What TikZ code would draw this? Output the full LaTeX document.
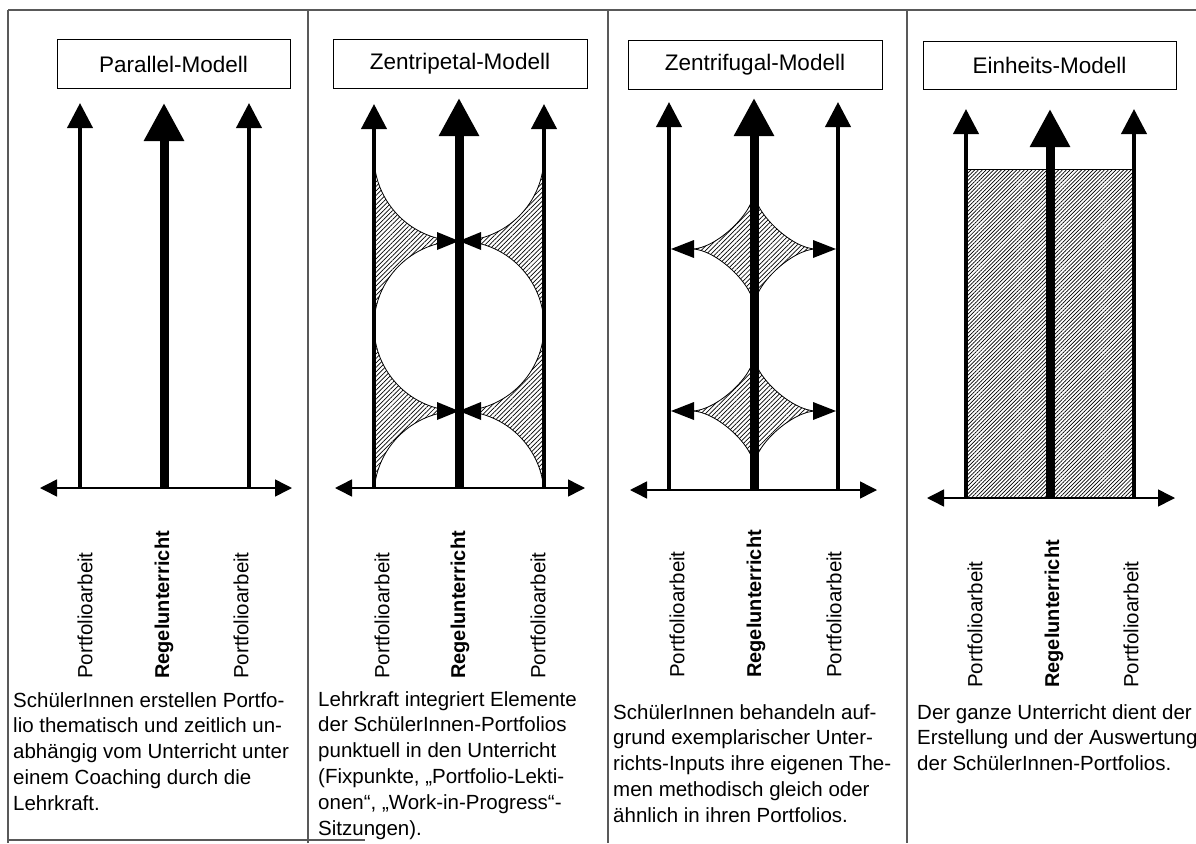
\documentclass[tikz,border=0pt]{standalone}
\usepackage{fontspec}
\setmainfont{Liberation Sans}
\usetikzlibrary{arrows.meta,patterns.meta}
\tikzset{
  frameline/.style={draw=black!65, line width=1.2pt},
  titlebox/.style={draw=black, line width=1pt, minimum height=48pt, inner sep=0pt, font=\fontsize{22.5}{26}\selectfont},
  thinarrow/.style={line width=4pt, -{Triangle[length=25pt,width=25pt]}},
  thickarrow/.style={line width=9pt, -{Triangle[length=38pt,width=38pt]}},
  haxis/.style={line width=1.5pt, {Triangle[length=17pt,width=17pt]}-{Triangle[length=17pt,width=17pt]}},
  vlabel/.style={rotate=90, anchor=west, inner sep=0pt, font=\fontsize{20.5}{24}\selectfont},
  vlabelbold/.style={rotate=90, anchor=west, inner sep=0pt, font=\fontsize{20}{24}\selectfont\bfseries},
  desc/.style={anchor=north west, align=left, inner sep=0pt, font=\fontsize{20.5}{25.8}\selectfont},
  hatch/.style={pattern={Lines[angle=45,distance=3.2pt,line width=0.7pt]}, pattern color=black},
  hatchdense/.style={pattern={Lines[angle=45,distance=2.7pt,line width=0.7pt]}, pattern color=black},
  outline/.style={draw=black, line width=0.8pt},
  head/.style={fill=black},
}
\begin{document}
\begin{tikzpicture}[x=1pt,y=1pt,yscale=-1]
\useasboundingbox (0,0) rectangle (1196,843);

% frame
\draw[frameline] (8,10) -- (1196,10);
\draw[frameline] (8,10) -- (8,843);
\draw[frameline] (308,10) -- (308,843);
\draw[frameline] (608,10) -- (608,843);
\draw[frameline] (907,10) -- (907,843);
\draw[frameline] (8,840) -- (365,840);

% titles
\node[titlebox, minimum width=233pt] (t1) at (173.5,64) {Parallel-Modell};
\node[titlebox, minimum width=254pt] (t2) at (460,64) {Zentripetal-Modell};
\node[titlebox, minimum width=254pt] (t3) at (755,65) {Zentrifugal-Modell};
\node[titlebox, minimum width=253pt] (t4) at (1049.5,65.5) {Einheits-Modell};

% ---------- Panel 1 ----------
\draw[haxis] (40,488) -- (292,488);
\draw[thinarrow] (80,488) -- (80,103);
\draw[thickarrow] (164,488) -- (164,103);
\draw[thinarrow] (249,488) -- (249,103);

% ---------- Panel 2 ----------
\begin{scope}
  \clip (374,157) rectangle (544,488);
  \fill[hatch, even odd rule] (374,150) rectangle (544,495)
     (459,156) circle[radius=85] (459,326) circle[radius=85] (459,496) circle[radius=85];
  \draw[outline] (459,156) circle[radius=85] (459,326) circle[radius=85] (459,496) circle[radius=85];
\end{scope}
\draw[haxis] (335,488) -- (585,488);
\draw[thinarrow] (374,488) -- (374,104);
\draw[thickarrow] (459,488) -- (459,98);
\draw[thinarrow] (544,488) -- (544,104);
\fill[head] (437,232) -- (459,241) -- (437,250) -- cycle;
\fill[head] (481,232) -- (459,241) -- (481,250) -- cycle;
\fill[head] (437,402) -- (459,411) -- (437,420) -- cycle;
\fill[head] (481,402) -- (459,411) -- (481,420) -- cycle;

% ---------- Panel 3 ----------
\filldraw[hatch, outline] (754,191) .. controls (754,213.04) and (792.44,249) .. (816,249)
  .. controls (792.44,249) and (754,284.96) .. (754,307)
  .. controls (754,284.96) and (715.56,249) .. (692,249)
  .. controls (715.56,249) and (754,213.04) .. (754,191) -- cycle;
\filldraw[hatch, outline] (754,355) .. controls (754,376.28) and (792.44,411) .. (816,411)
  .. controls (792.44,411) and (754,445.72) .. (754,467)
  .. controls (754,445.72) and (715.56,411) .. (692,411)
  .. controls (715.56,411) and (754,376.28) .. (754,355) -- cycle;
\draw[haxis] (630,490) -- (877,490);
\draw[thinarrow] (669,490) -- (669,102);
\draw[thickarrow] (754,490) -- (754,98);
\draw[thinarrow] (838,490) -- (838,102);
\fill[head] (671,249) -- (694,240) -- (694,258) -- cycle;
\fill[head] (836,249) -- (813,240) -- (813,258) -- cycle;
\fill[head] (671,411) -- (694,402) -- (694,420) -- cycle;
\fill[head] (836,411) -- (813,402) -- (813,420) -- cycle;

% ---------- Panel 4 ----------
\fill[hatchdense] (966,169) rectangle (1134,498);
\draw[outline] (966,169) -- (1134,169);
\draw[haxis] (927,498) -- (1175,498);
\draw[thinarrow] (966,498) -- (966,109);
\draw[thickarrow] (1050,498) -- (1050,109);
\draw[thinarrow] (1134,498) -- (1134,109);

% ---------- vertical labels ----------
\node[vlabel] (l1a) at (85,679) {Portfolioarbeit};
\node[vlabelbold] (l1b) at (164,679) {Regelunterricht};
\node[vlabel] (l1c) at (241,679) {Portfolioarbeit};
\node[vlabel] (l2a) at (382,679) {Portfolioarbeit};
\node[vlabelbold] (l2b) at (460,679) {Regelunterricht};
\node[vlabel] (l2c) at (538,679) {Portfolioarbeit};
\node[vlabel] (l3a) at (677,678) {Portfolioarbeit};
\node[vlabelbold] (l3b) at (756,678) {Regelunterricht};
\node[vlabel] (l3c) at (834,678) {Portfolioarbeit};
\node[vlabel] (l4a) at (975,688) {Portfolioarbeit};
\node[vlabelbold] (l4b) at (1054,688) {Regelunterricht};
\node[vlabel] (l4c) at (1131,688) {Portfolioarbeit};

% ---------- descriptions ----------
\node[desc] (d1) at (13,692) {SchülerInnen erstellen Portfo-\\lio thematisch und zeitlich un-\\abhängig vom Unterricht unter\\einem Coaching durch die\\Lehrkraft.};
\node[desc] (d2) at (318,691) {Lehrkraft integriert Elemente\\der SchülerInnen-Portfolios\\punktuell in den Unterricht\\(Fixpunkte, „Portfolio-Lekti-\\onen“, „Work-in-Progress“-\\Sitzungen).};
\node[desc] (d3) at (613,704) {SchülerInnen behandeln auf-\\grund exemplarischer Unter-\\richts-Inputs ihre eigenen The-\\men methodisch gleich oder\\ähnlich in ihren Portfolios.};
\node[desc] (d4) at (917,704) {Der ganze Unterricht dient der\\Erstellung und der Auswertung\\der SchülerInnen-Portfolios.};
\end{tikzpicture}
\end{document}
